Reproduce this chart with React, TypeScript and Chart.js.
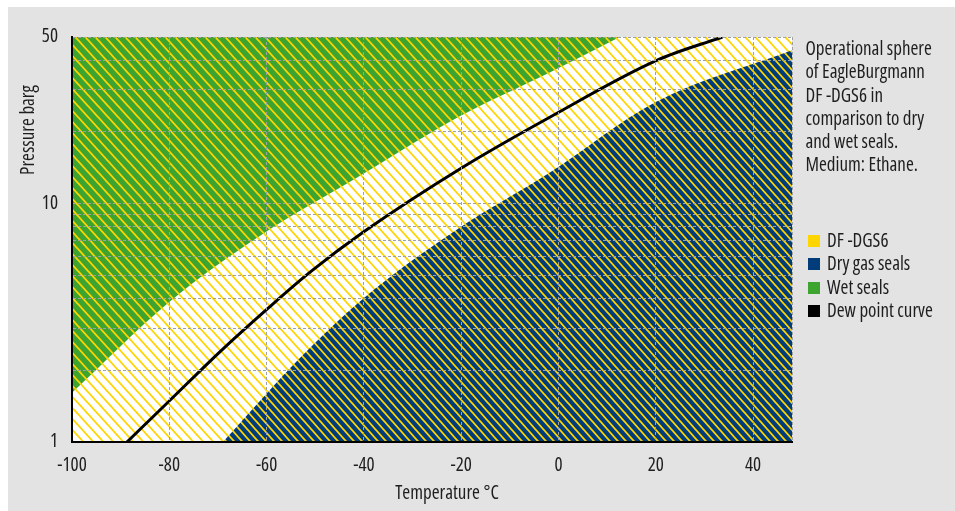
import React, { useEffect, useRef } from 'react';
import { Chart, registerables } from 'chart.js';

Chart.register(...registerables);

// ---- Data ----
const xTickValues = [-100, -80, -60, -40, -20, 0, 20, 40, 48];
const xLabelled = [-100, -80, -60, -40, -20, 0, 20, 40];
const yTickValues = [1, 2, 3, 4, 5, 6, 7, 8, 9, 10, 20, 30, 40, 50];
const yLabelled = [1, 10, 50];

// Dew point curve (Ethane)
const dewTemp = [-88.7, -79.8, -69.6, -59.9, -51, -40.1, -19.6, -1.7, 20.3, 33.7];
const dewPress = [1, 1.5, 2.39, 3.61, 5.17, 7.6, 14.25, 23.1, 40, 50];

// Upper limit of DF-DGS6 area (wet seals above)
const wetTemp = [-100, -80, -61.4, -40.2, -20.2, -1.7, 12.6];
const wetPress = [1.61, 3.87, 7.31, 13.3, 23.3, 35.6, 50];

// Lower limit of DF-DGS6 area (dry gas seals below)
const dryTemp = [-69, -53, -40, -21, -2, 20, 48];
const dryPress = [1, 2.27, 4.02, 7.75, 13.4, 26.7, 44];

const legendLabels = ['DF -DGS6', 'Dry gas seals', 'Wet seals', 'Dew point curve'];
const descriptionLines = [
  'Operational sphere',
  'of EagleBurgmann',
  'DF -DGS6 in',
  'comparison to dry',
  'and wet seals.',
  'Medium: Ethane.',
];

const YELLOW = '#ffd500';
const BLUE = '#003b7a';
const GREEN = '#3da52f';
const BLACK = '#000000';
const legendColors = [YELLOW, BLUE, GREEN, BLACK];

const FAMILY = "'Open Sans', sans-serif";
const FSIZE = 19;
const TEXT = '#1e1e1e';

function makePattern(ctx: CanvasRenderingContext2D, bg: string, w: number, h: number) {
  const c = document.createElement('canvas');
  c.width = w;
  c.height = h;
  const g = c.getContext('2d') as CanvasRenderingContext2D;
  g.fillStyle = bg;
  g.fillRect(0, 0, w, h);
  g.strokeStyle = YELLOW;
  g.lineWidth = 1.8;
  g.beginPath();
  for (const k of [-1, 0, 1]) {
    g.moveTo(k * w - w * 0.3, -h * 0.3);
    g.lineTo(k * w + w * 1.3, h * 1.3);
  }
  g.stroke();
  return ctx.createPattern(c, 'repeat') as CanvasPattern;
}

const pts = (xs: number[], ys: number[]) => xs.map((x, i) => ({ x, y: ys[i] }));

export default function App() {
  const ref = useRef<HTMLCanvasElement | null>(null);

  useEffect(() => {
    const canvas = ref.current;
    if (!canvas) return;
    const ctx = canvas.getContext('2d') as CanvasRenderingContext2D;
    const whitePat = makePattern(ctx, '#ffffff', 10, 11);
    const greenPat = makePattern(ctx, GREEN, 10, 11);
    const bluePat = makePattern(ctx, BLUE, 8, 9);

    const bgPlugin = {
      id: 'hatchBg',
      beforeDatasetsDraw(chart: any) {
        const { ctx: c, chartArea: a } = chart;
        c.save();
        c.fillStyle = whitePat;
        c.fillRect(a.left, a.top, a.right - a.left, a.bottom - a.top);
        c.restore();
      },
    };

    const titlePlugin = {
      id: 'axisTitles',
      afterDraw(chart: any) {
        const { ctx: c, chartArea: a } = chart;
        c.save();
        c.font = `condensed ${FSIZE}px ${FAMILY}`;
        c.fillStyle = TEXT;
        c.textAlign = 'center';
        c.textBaseline = 'alphabetic';
        c.fillText('Temperature °C', (a.left + a.right) / 2 + 15, a.bottom + 57);
        c.translate(26, a.top + 93);
        c.rotate(-Math.PI / 2);
        c.fillText('Pressure barg', 0, 0);
        c.restore();
      },
    };

    const tickFont = { family: FAMILY, size: FSIZE, weight: 'condensed' };

    const chart = new Chart(canvas, {
      type: 'line',
      data: {
        datasets: [
          {
            label: 'Dew point curve',
            data: pts(dewTemp, dewPress),
            borderColor: BLACK,
            borderWidth: 3,
            fill: false,
            cubicInterpolationMode: 'monotone',
            pointRadius: 0,
          },
          {
            label: 'Wet seals',
            data: pts(wetTemp, wetPress),
            borderColor: 'rgba(0,0,0,0)',
            borderWidth: 1,
            backgroundColor: greenPat,
            fill: 'end',
            cubicInterpolationMode: 'monotone',
            pointRadius: 0,
          },
          {
            label: 'Dry gas seals',
            data: pts(dryTemp, dryPress),
            borderColor: 'rgba(0,0,0,0)',
            borderWidth: 1,
            backgroundColor: bluePat,
            fill: 'start',
            cubicInterpolationMode: 'monotone',
            pointRadius: 0,
          },
        ],
      },
      options: {
        responsive: false,
        animation: false,
        devicePixelRatio: 1,
        layout: { padding: { top: 30, right: 16, left: 0, bottom: 0 } },
        plugins: {
          legend: { display: false },
          tooltip: { enabled: false },
        },
        scales: {
          x: {
            type: 'linear',
            min: -100,
            max: 48,
            afterBuildTicks: (s: any) => {
              s.ticks = xTickValues.map((v) => ({ value: v }));
            },
            afterFit: (s: any) => {
              s.height = 69;
            },
            ticks: {
              autoSkip: false,
              maxRotation: 0,
              padding: 12,
              color: TEXT,
              font: tickFont,
              callback: (v: any) => (xLabelled.includes(Number(v)) ? String(v) : ''),
            },
            grid: { color: '#a0a0a0', lineWidth: 1, drawTicks: false, z: 1 },
            border: { display: true, color: '#000', width: 2, dash: [3, 2], z: 2 },
          },
          y: {
            type: 'logarithmic',
            min: 1,
            max: 50,
            afterBuildTicks: (s: any) => {
              s.ticks = yTickValues.map((v) => ({ value: v }));
            },
            afterFit: (s: any) => {
              s.width = 64;
            },
            ticks: {
              autoSkip: false,
              padding: 14,
              color: TEXT,
              font: tickFont,
              callback: (v: any) => (yLabelled.includes(Number(v)) ? String(v) : ''),
            },
            grid: { color: '#a0a0a0', lineWidth: 1, drawTicks: false, z: 1 },
            border: { display: true, color: '#000', width: 2, dash: [3, 2], z: 2 },
          },
        },
      },
      plugins: [bgPlugin, titlePlugin],
    } as any);

    return () => chart.destroy();
  }, []);

  const textStyle: React.CSSProperties = {
    fontFamily: FAMILY,
    fontStretch: 'condensed',
    fontSize: FSIZE,
    lineHeight: '23.3px',
    whiteSpace: 'nowrap',
    color: TEXT,
  };

  return (
    <div
      style={{
        position: 'absolute',
        left: 8,
        top: 7,
        width: 947,
        height: 504,
        background: '#e3e3e3',
      }}
    >
      <canvas
        ref={ref}
        width={800}
        height={504}
        style={{ position: 'absolute', left: 0, top: 0, width: 800, height: 504 }}
      />
      <div style={{ ...textStyle, position: 'absolute', left: 797.5, top: 30 }}>
        {descriptionLines.map((l) => (
          <div key={l}>{l}</div>
        ))}
      </div>
      {legendLabels.map((label, i) => (
        <React.Fragment key={label}>
          <span
            style={{
              position: 'absolute',
              left: 800,
              top: 228 + i * 23.3,
              width: 12,
              height: 12,
              background: legendColors[i],
            }}
          />
          <span style={{ ...textStyle, position: 'absolute', left: 819, top: 222 + i * 23.3 }}>{label}</span>
        </React.Fragment>
      ))}
    </div>
  );
}
